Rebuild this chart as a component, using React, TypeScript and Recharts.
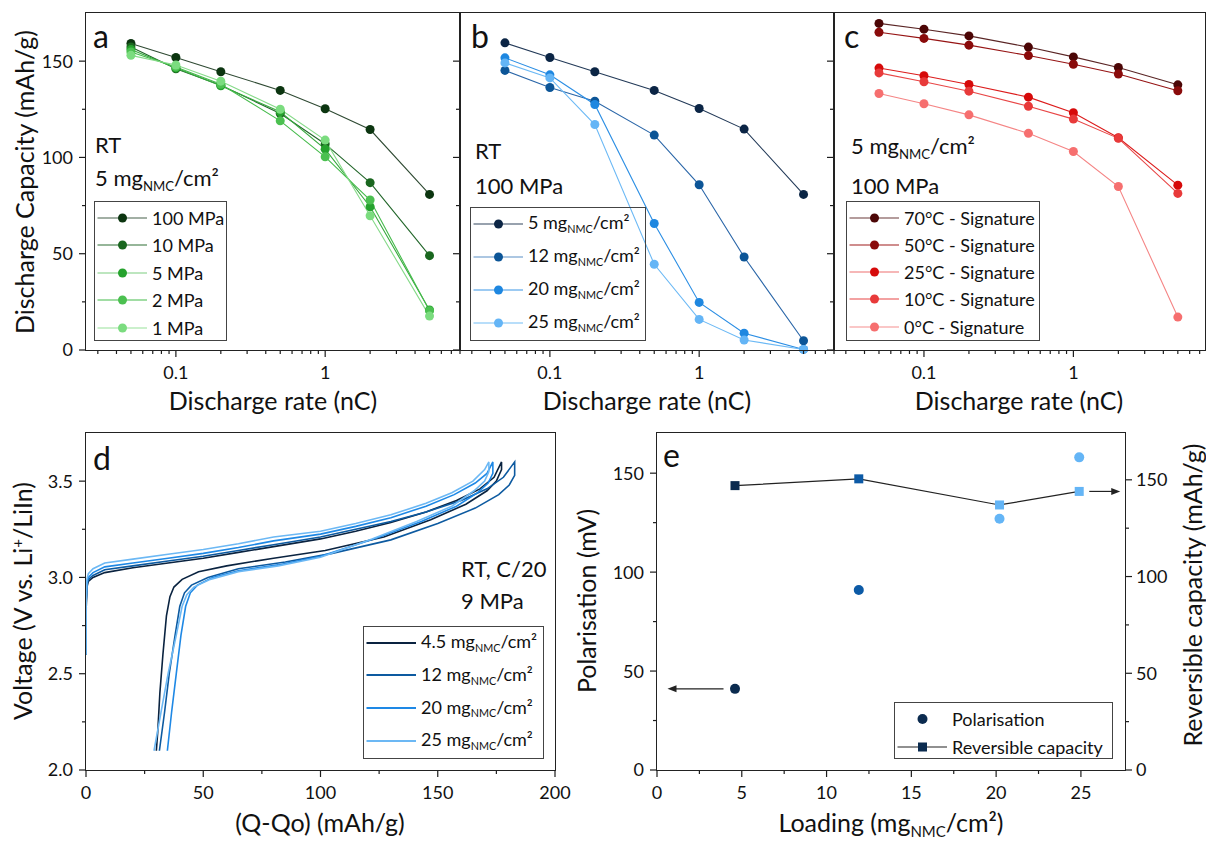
import React from 'react';
import { LineChart, Line, XAxis, YAxis, ComposedChart, Scatter } from 'recharts';

const FONT = 'Lato, "Open Sans", sans-serif';
const INK = '#1c1c1c';

// ---------- a, b, c: discharge capacity vs. rate ----------
const rates = [0.05, 0.1, 0.2, 0.5, 1, 2, 5];
const rateTicks = [0.03, 0.04, 0.05, 0.06, 0.07, 0.08, 0.09, 0.1, 0.2, 0.3, 0.4, 0.5, 0.6, 0.7, 0.8, 0.9, 1, 2, 3, 4, 5, 6, 7, 8];
const rateLabels = [0.1, 1];
const capTicks = [0, 25, 50, 75, 100, 125, 150];
const capLabels = [0, 50, 100, 150];

// a - stack pressure
const cap100MPa = [159.2, 151.9, 144.5, 134.8, 125.3, 114.5, 80.8];
const cap10MPa = [157.4, 146.0, 137.5, 122.8, 107.0, 86.9, 49.0];
const cap5MPa = [156.0, 146.5, 137.2, 123.7, 104.3, 74.4, 20.8];
const cap2MPa = [154.8, 147.0, 138.0, 119.0, 100.3, 77.9, 20.4];
const cap1MPa = [153.0, 148.0, 139.6, 125.0, 109.0, 69.7, 17.6];

// b - loading
const cap5mg = [159.5, 151.9, 144.5, 134.8, 125.4, 114.7, 80.8];
const cap12mg = [145.2, 136.3, 129.2, 111.6, 85.8, 48.3, 4.8];
const cap20mg = [151.7, 142.9, 127.5, 65.7, 24.7, 8.7, 0.3];
const cap25mg = [149.1, 141.3, 117.1, 44.5, 15.9, 5.2, 0.3];

// c - temperature
const cap70C = [169.6, 166.6, 163.1, 157.3, 152.2, 146.7, 137.7];
const cap50C = [165.0, 161.8, 158.3, 152.9, 148.4, 143.3, 134.6];
const cap25C = [146.4, 142.4, 137.9, 131.3, 123.2, 110.2, 85.6];
const cap10C = [143.9, 139.3, 134.4, 126.6, 119.9, 109.9, 81.3];
const cap0C = [133.2, 127.9, 122.1, 112.5, 103.1, 84.9, 17.1];

// ---------- d: voltage profiles (Q-Qo, V) ----------
const curve45: [number, number][] = [
  [0, 2.6], [0.1, 2.85], [0.4, 2.95], [1, 2.98], [3, 3.0], [8, 3.025], [20, 3.05], [35, 3.075], [50, 3.1],
  [65, 3.13], [80, 3.16], [100, 3.2], [115, 3.24], [130, 3.285], [145, 3.34], [158, 3.4], [168, 3.46],
  [174, 3.52], [177.2, 3.6],
  [177.2, 3.56], [175, 3.5], [171, 3.45], [162, 3.38], [147, 3.3], [127, 3.21], [102, 3.14], [80, 3.1],
  [60, 3.06], [48, 3.03], [41, 2.99], [37.5, 2.95], [35.8, 2.9], [34.3, 2.8], [32.8, 2.6], [31.5, 2.4],
  [30.6, 2.2], [30, 2.1],
];
const curve12: [number, number][] = [
  [0, 2.6], [0.1, 2.87], [0.4, 2.96], [1, 2.99], [3, 3.01], [8, 3.04], [20, 3.06], [35, 3.085], [50, 3.11],
  [65, 3.14], [80, 3.17], [100, 3.21], [115, 3.25], [130, 3.29], [145, 3.34], [160, 3.4], [171, 3.46],
  [178, 3.52], [182.8, 3.6],
  [182.8, 3.53], [180.5, 3.48], [176, 3.43], [166, 3.36], [150, 3.28], [130, 3.195], [105, 3.125], [85, 3.08],
  [65, 3.045], [52, 3.0], [45, 2.96], [42, 2.92], [40, 2.85], [38, 2.7], [35.5, 2.5], [33.5, 2.3], [31.3, 2.1],
];
const curve20: [number, number][] = [
  [0, 2.6], [0.1, 2.88], [0.4, 2.97], [1, 3.0], [3, 3.025], [8, 3.055], [20, 3.075], [35, 3.1], [50, 3.125],
  [65, 3.155], [80, 3.19], [100, 3.225], [115, 3.265], [130, 3.31], [145, 3.37], [157, 3.43], [166, 3.49],
  [171, 3.54], [173.5, 3.6],
  [173.5, 3.54], [171.5, 3.49], [167, 3.44], [158, 3.37], [143, 3.29], [124, 3.205], [100, 3.11], [82, 3.065],
  [65, 3.035], [54, 3.0], [47.5, 2.96], [44.5, 2.92], [42.5, 2.85], [40.5, 2.7], [38.5, 2.5], [36.5, 2.3], [34.7, 2.1],
];
const curve25: [number, number][] = [
  [0, 2.6], [0.1, 2.9], [0.4, 2.99], [1, 3.02], [3, 3.045], [8, 3.075], [20, 3.095], [35, 3.12], [50, 3.145],
  [65, 3.175], [80, 3.21], [100, 3.24], [115, 3.28], [130, 3.325], [145, 3.385], [156, 3.44], [165, 3.5],
  [170, 3.56], [171.8, 3.6],
  [171.8, 3.55], [170, 3.5], [165.5, 3.45], [156, 3.37], [141, 3.29], [122, 3.2], [100, 3.105], [82, 3.06],
  [65, 3.03], [53, 2.99], [46, 2.95], [43, 2.91], [41, 2.85], [38.5, 2.7], [35, 2.5], [32, 2.3], [29, 2.1],
];
const qTicks = [0, 25, 50, 75, 100, 125, 150, 175, 200];
const qLabels = [0, 50, 100, 150, 200];
const vTicks = [2, 2.25, 2.5, 2.75, 3, 3.25, 3.5];
const vLabels = [2, 2.5, 3, 3.5];

// ---------- e: polarisation & reversible capacity ----------
const loadings = [4.6, 11.9, 20.2, 24.9];
const polarisation = [41, 91, 127, 158];
const reversibleCapacity = [147, 150.5, 137, 144];
const loadingColors = ['#0b2b4f', '#0c5aa6', '#64b5f6', '#64b5f6'];
const loadTicks = [0, 2.5, 5, 7.5, 10, 12.5, 15, 17.5, 20, 22.5, 25];
const loadLabels = [0, 5, 10, 15, 20, 25];
const polArrow = [{ loading: 0.62, pol: 41 }];
const capArrow = [{ loading: 27.32, cap: 144 }];

const isMajor = (list: number[], v: number) => list.some((m) => Math.abs(m - v) < 1e-9);

function BottomTick(props: any) {
  const { x, y, payload, labels, fmt } = props;
  const v = payload.value;
  const major = isMajor(labels, v);
  return (
    <g>
      <line x1={x} x2={x} y1={y} y2={y + (major ? 7 : 4)} stroke={INK} strokeWidth={1.2} />
      {major && (
        <text x={x} y={y + 29} textAnchor="middle" fontSize={18} fill="#111">
          {fmt ? fmt(v) : String(v)}
        </text>
      )}
    </g>
  );
}

function LeftTick(props: any) {
  const { x, y, payload, labels, fmt, outer = true, showLabels = true, inner = 0 } = props;
  const v = payload.value;
  const major = isMajor(labels, v);
  const len = major ? 7 : 4;
  return (
    <g>
      {outer && <line x1={x - len} x2={x} y1={y} y2={y} stroke={INK} strokeWidth={1.2} />}
      {inner > 0 && <line x1={x + inner - len} x2={x + inner} y1={y} y2={y} stroke={INK} strokeWidth={1.2} />}
      {showLabels && major && (
        <text x={x - 13} y={y} dy="0.36em" textAnchor="end" fontSize={18} fill="#111">
          {fmt ? fmt(v) : String(v)}
        </text>
      )}
    </g>
  );
}

function RightTick(props: any) {
  const { x, y, payload, labels } = props;
  const v = payload.value;
  const major = isMajor(labels, v);
  return (
    <g>
      <line x1={x} x2={x + (major ? 7 : 4)} y1={y} y2={y} stroke={INK} strokeWidth={1.2} />
      {major && (
        <text x={x + 11} y={y} dy="0.36em" textAnchor="start" fontSize={18} fill="#111">
          {String(v)}
        </text>
      )}
    </g>
  );
}

const Mg = () => (
  <>
    mg<span style={{ fontSize: '0.6em', position: 'relative', top: '0.35em' }}>NMC</span>/cm²
  </>
);

function Frame({ x0, y0, x1, y1 }: { x0: number; y0: number; x1: number; y1: number }) {
  return (
    <div
      style={{
        position: 'absolute', left: x0 - 0.6, top: y0 - 0.6, width: x1 - x0 + 1.2, height: y1 - y0 + 1.2,
        border: '1.2px solid #222', boxSizing: 'border-box', pointerEvents: 'none',
      }}
    />
  );
}

function Note({ x, base, size = 22, children }: { x: number; base: number; size?: number; children: React.ReactNode }) {
  return (
    <div style={{ position: 'absolute', left: x, top: base - 0.887 * size, fontSize: size, lineHeight: `${size}px`, whiteSpace: 'nowrap' }}>
      {children}
    </div>
  );
}

function XTitle({ cx, base, children }: { cx: number; base: number; children: React.ReactNode }) {
  return (
    <div style={{ position: 'absolute', left: cx, top: base - 0.887 * 25, fontSize: 25, lineHeight: '25px', whiteSpace: 'nowrap', transform: 'translateX(-50%)' }}>
      {children}
    </div>
  );
}

function YTitle({ cx, cy, children }: { cx: number; cy: number; children: React.ReactNode }) {
  return (
    <div style={{ position: 'absolute', left: cx, top: cy, fontSize: 25, lineHeight: '25px', whiteSpace: 'nowrap', transform: 'translate(-50%, -50%) rotate(-90deg)' }}>
      {children}
    </div>
  );
}

type LegendItem = { label: React.ReactNode; line: string; dot?: string; square?: boolean; noLine?: boolean; lw?: number };

function LegendBox({ left, top, width, height, rowH, items }: { left: number; top: number; width: number; height: number; rowH: number; items: LegendItem[] }) {
  return (
    <div style={{ position: 'absolute', left, top, width, height, border: '1.3px solid #444', boxSizing: 'border-box' }}>
      {items.map((it, i) => (
        <div key={i} style={{ position: 'absolute', left: 0, top: 15.5 + i * rowH - 14, height: 28, display: 'flex', alignItems: 'center', whiteSpace: 'nowrap', fontSize: 18, lineHeight: '28px' }}>
          <svg width={57} height={28} style={{ flex: 'none' }}>
            {!it.noLine && <line x1={2.5} x2={52} y1={14} y2={14} stroke={it.line} strokeWidth={it.lw ?? 1.2} />}
            {it.dot && !it.square && <circle cx={27.5} cy={14} r={it.noLine ? 5 : 4.5} fill={it.dot} />}
            {it.dot && it.square && <rect x={23} y={9.5} width={9} height={9} fill={it.dot} />}
          </svg>
          <span>{it.label}</span>
        </div>
      ))}
    </div>
  );
}

type RateSeries = { key: string; label: React.ReactNode; values: number[]; line: string; swatch: string; dot: string };

const seriesA: RateSeries[] = [
  { key: 'p100', label: '100 MPa', values: cap100MPa, line: '#2f4a33', swatch: '#46604a', dot: '#0c3510' },
  { key: 'p10', label: '10 MPa', values: cap10MPa, line: '#22662a', swatch: '#2f6e35', dot: '#1a671f' },
  { key: 'p5', label: '5 MPa', values: cap5MPa, line: '#38a93f', swatch: '#7ccd80', dot: '#25a22d' },
  { key: 'p2', label: '2 MPa', values: cap2MPa, line: '#45bb4b', swatch: '#45bb4b', dot: '#4bc050' },
  { key: 'p1', label: '1 MPa', values: cap1MPa, line: '#86da89', swatch: '#98e29a', dot: '#7bdc7f' },
];
const seriesB: RateSeries[] = [
  { key: 'l5', label: <>5 <Mg /></>, values: cap5mg, line: '#233a58', swatch: '#33465e', dot: '#0b2545' },
  { key: 'l12', label: <>12 <Mg /></>, values: cap12mg, line: '#2a66a8', swatch: '#5b8fc5', dot: '#0c5597' },
  { key: 'l20', label: <>20 <Mg /></>, values: cap20mg, line: '#2b8ee4', swatch: '#3a95e6', dot: '#1e87e0' },
  { key: 'l25', label: <>25 <Mg /></>, values: cap25mg, line: '#6cb9f5', swatch: '#72bdf6', dot: '#64b5f6' },
];
const seriesC: RateSeries[] = [
  { key: 't70', label: '70°C - Signature', values: cap70C, line: '#5a2525', swatch: '#6a3b3b', dot: '#4c0606' },
  { key: 't50', label: '50°C - Signature', values: cap50C, line: '#961414', swatch: '#a01c1c', dot: '#8a0b0b' },
  { key: 't25', label: '25°C - Signature', values: cap25C, line: '#dc1c1c', swatch: '#ee7070', dot: '#d60a0a' },
  { key: 't10', label: '10°C - Signature', values: cap10C, line: '#e84646', swatch: '#e84646', dot: '#e83a3a' },
  { key: 't0', label: '0°C - Signature', values: cap0C, line: '#f58585', swatch: '#f58f8f', dot: '#f66f6f' },
];

function RatePanel({ left, width, series, xMax, tickMode }: { left: number; width: number; series: RateSeries[]; xMax: number; tickMode: 'a' | 'b' | 'c' }) {
  const rows = rates.map((r, i) => {
    const row: Record<string, number> = { rate: r };
    series.forEach((s) => { row[s.key] = s.values[i]; });
    return row;
  });
  const plotW = width - 21;
  const yTick =
    tickMode === 'a' ? <LeftTick labels={capLabels} inner={374} /> :
    tickMode === 'b' ? <LeftTick labels={capLabels} outer={false} showLabels={false} inner={plotW} /> :
    <LeftTick labels={capLabels} outer={false} showLabels={false} />;
  const ml = tickMode === 'a' ? 85 : 19;
  return (
    <div style={{ position: 'absolute', left, top: 0 }}>
      <LineChart width={width} height={420} data={rows} margin={{ top: 13, right: 1, bottom: 69, left: ml }}>
        <XAxis
          dataKey="rate" type="number" scale="log" domain={[0.025, xMax]} allowDataOverflow
          ticks={rateTicks.filter((t) => t <= xMax)} interval={0} height={1} tickSize={0} tickMargin={0}
          axisLine={false} tickLine={false} tick={<BottomTick labels={rateLabels} />}
        />
        <YAxis
          type="number" domain={[0, 175]} ticks={capTicks} interval={0} width={1} tickSize={0} tickMargin={0}
          axisLine={false} tickLine={false} tick={yTick}
        />
        {series.map((s) => (
          <Line
            key={s.key} type="linear" dataKey={s.key} stroke={s.line} strokeWidth={1.1}
            dot={{ r: 4.5, fill: s.dot, stroke: s.dot, strokeWidth: 0 }} activeDot={false}
            isAnimationActive={false}
          />
        ))}
      </LineChart>
    </div>
  );
}

const curvesD = [
  { key: 'd45', label: <>4.5 <Mg /></>, pts: curve45, color: '#0a2340' },
  { key: 'd12', label: <>12 <Mg /></>, pts: curve12, color: '#0d5aa0' },
  { key: 'd20', label: <>20 <Mg /></>, pts: curve20, color: '#1e88e5' },
  { key: 'd25', label: <>25 <Mg /></>, pts: curve25, color: '#6cb8f4' },
];

function ProfilePanel() {
  return (
    <div style={{ position: 'absolute', left: 0, top: 420 }}>
      <LineChart width={585} height={422} margin={{ top: 13, right: 30, bottom: 71, left: 85 }}>
        <XAxis
          dataKey="q" type="number" domain={[0, 200]} ticks={qTicks} interval={0} height={1} tickSize={0}
          tickMargin={0} axisLine={false} tickLine={false} tick={<BottomTick labels={qLabels} />}
        />
        <YAxis
          type="number" domain={[2, 3.75]} ticks={vTicks} interval={0} width={1} tickSize={0} tickMargin={0}
          axisLine={false} tickLine={false} allowDataOverflow
          tick={<LeftTick labels={vLabels} fmt={(v: number) => v.toFixed(1)} />}
        />
        {curvesD.map((c) => (
          <Line
            key={c.key} type="linear" data={c.pts.map(([q, v]) => ({ q, v }))} dataKey="v"
            stroke={c.color} strokeWidth={1.6} dot={false} activeDot={false} isAnimationActive={false}
          />
        ))}
      </LineChart>
    </div>
  );
}

function LeftArrow(p: any) {
  const { cx, cy } = p;
  return (
    <g>
      <line x1={cx + 4} x2={cx + 56} y1={cy} y2={cy} stroke="#222" strokeWidth={1.2} />
      <path d={`M${cx},${cy} l9,-3.5 l0,7 z`} fill="#222" />
    </g>
  );
}

function RightArrow(p: any) {
  const { cx, cy } = p;
  return (
    <g>
      <line x1={cx - 31} x2={cx - 4} y1={cy} y2={cy} stroke="#222" strokeWidth={1.2} />
      <path d={`M${cx},${cy} l-9,-3.5 l0,7 z`} fill="#222" />
    </g>
  );
}

function LoadingPanel() {
  const rows = loadings.map((l, i) => ({ loading: l, pol: polarisation[i], cap: reversibleCapacity[i], color: loadingColors[i] }));
  return (
    <div style={{ position: 'absolute', left: 600, top: 420 }}>
      <ComposedChart width={606} height={422} data={rows} margin={{ top: 13, right: 80, bottom: 71, left: 56 }}>
        <XAxis
          dataKey="loading" type="number" domain={[0, 27.6]} ticks={loadTicks} interval={0} height={1}
          tickSize={0} tickMargin={0} axisLine={false} tickLine={false} tick={<BottomTick labels={loadLabels} />}
        />
        <YAxis
          yAxisId="pol" dataKey="pol" type="number" domain={[0, 170.3]} ticks={capTicks} interval={0} width={1}
          tickSize={0} tickMargin={0} axisLine={false} tickLine={false} tick={<LeftTick labels={capLabels} />}
        />
        <YAxis
          yAxisId="cap" dataKey="cap" orientation="right" type="number" domain={[0, 174.2]} ticks={capTicks}
          interval={0} width={1} tickSize={0} tickMargin={0} axisLine={false} tickLine={false}
          tick={<RightTick labels={capLabels} />}
        />
        <Line
          yAxisId="cap" type="linear" dataKey="cap" stroke="#222" strokeWidth={1.2} activeDot={false}
          isAnimationActive={false}
          dot={(p: any) => <rect key={p.index} x={p.cx - 4.5} y={p.cy - 4.5} width={9} height={9} fill={p.payload.color} />}
        />
        <Scatter
          yAxisId="pol" dataKey="pol" isAnimationActive={false}
          shape={(p: any) => <circle cx={p.cx} cy={p.cy} r={5} fill={p.payload.color} />}
        />
        <Scatter yAxisId="pol" data={polArrow} dataKey="pol" isAnimationActive={false} shape={<LeftArrow />} />
        <Scatter yAxisId="cap" data={capArrow} dataKey="cap" isAnimationActive={false} shape={<RightArrow />} />
      </ComposedChart>
    </div>
  );
}

export default function App() {
  return (
    <div style={{ position: 'absolute', left: 0, top: 0, width: 1206, height: 842, background: '#fff', fontFamily: FONT, color: '#111', overflow: 'hidden' }}>
      <RatePanel left={0} width={461} series={seriesA} xMax={8} tickMode="a" />
      <RatePanel left={440} width={395} series={seriesB} xMax={8} tickMode="b" />
      <RatePanel left={814} width={392} series={seriesC} xMax={7.6} tickMode="c" />
      <ProfilePanel />
      <LoadingPanel />

      <Frame x0={86} y0={13} x1={460} y1={350} />
      <Frame x0={460} y0={13} x1={834} y1={350} />
      <Frame x0={834} y0={13} x1={1205} y1={350} />
      <Frame x0={86} y0={433} x1={555} y1={770} />
      <Frame x0={657} y0={433} x1={1125} y1={770} />

      <YTitle cx={24} cy={182}>Discharge Capacity (mAh/g)</YTitle>
      <XTitle cx={273} base={410}>Discharge rate (nC)</XTitle>
      <XTitle cx={647} base={410}>Discharge rate (nC)</XTitle>
      <XTitle cx={1019} base={410}>Discharge rate (nC)</XTitle>
      <YTitle cx={24} cy={601}>Voltage (V vs. Li<span style={{ fontSize: '0.6em', position: 'relative', top: '-0.6em' }}>+</span>/LiIn)</YTitle>
      <XTitle cx={320} base={832}>(Q-Qo) (mAh/g)</XTitle>
      <YTitle cx={586} cy={601}>Polarisation (mV)</YTitle>
      <YTitle cx={1192} cy={595}>Reversible capacity (mAh/g)</YTitle>
      <XTitle cx={891} base={832}>Loading (<Mg />)</XTitle>

      <Note x={93} base={48} size={32}>a</Note>
      <Note x={95} base={154}>RT</Note>
      <Note x={95} base={187}>5 <Mg /></Note>
      <Note x={471} base={48} size={32}>b</Note>
      <Note x={475} base={160}>RT</Note>
      <Note x={475} base={195}>100 MPa</Note>
      <Note x={844} base={48} size={32}>c</Note>
      <Note x={851} base={155}>5 <Mg /></Note>
      <Note x={851} base={195}>100 MPa</Note>
      <Note x={93} base={470} size={32}>d</Note>
      <Note x={461} base={578}>RT, C/20</Note>
      <Note x={461} base={610}>9 MPa</Note>
      <Note x={663} base={467} size={32}>e</Note>

      <LegendBox left={94} top={201} width={133} height={140} rowH={27.5}
        items={seriesA.map((s) => ({ label: s.label, line: s.swatch, dot: s.dot }))} />
      <LegendBox left={470} top={207} width={176} height={134} rowH={33}
        items={seriesB.map((s) => ({ label: s.label, line: s.swatch, dot: s.dot }))} />
      <LegendBox left={846} top={201} width={194} height={140} rowH={27.3}
        items={seriesC.map((s) => ({ label: s.label, line: s.swatch, dot: s.dot }))} />
      <LegendBox left={363} top={626} width={181} height={133} rowH={32.8}
        items={curvesD.map((c) => ({ label: c.label, line: c.color, lw: 2 }))} />
      <LegendBox left={894} top={702} width={219} height={57} rowH={28.4}
        items={[
          { label: 'Polarisation', line: '#222', dot: '#0b2b4f', noLine: true },
          { label: 'Reversible capacity', line: '#222', dot: '#0b2b4f', square: true },
        ]} />
    </div>
  );
}
